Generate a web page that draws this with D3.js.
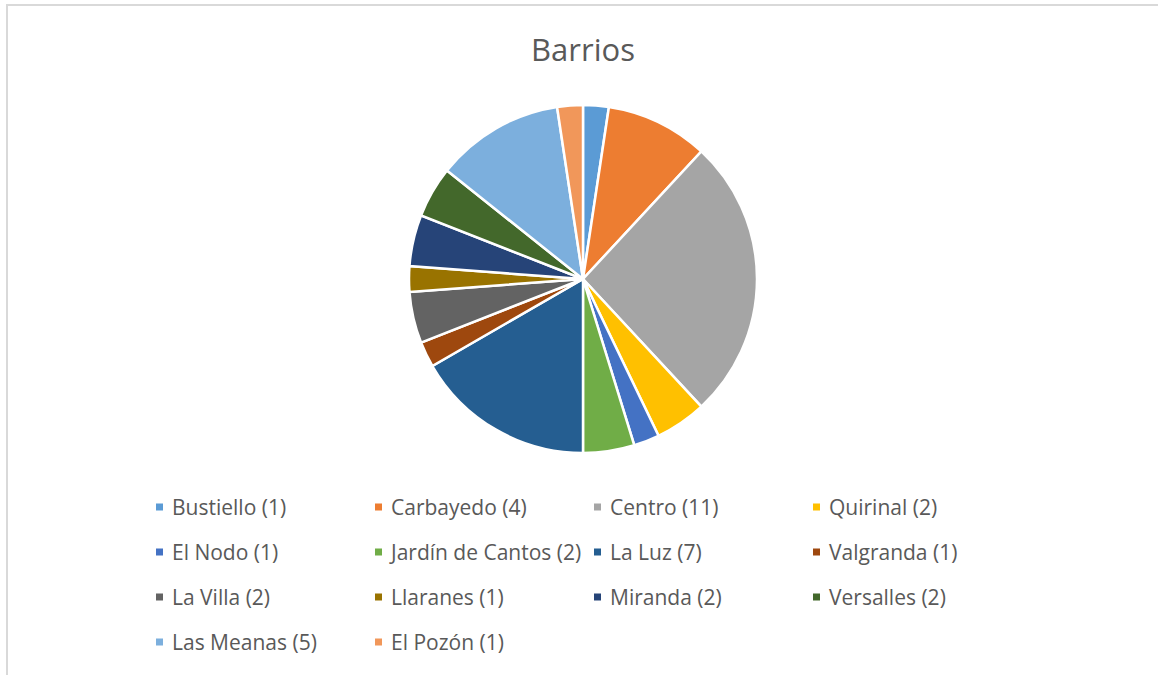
<!DOCTYPE html>
<html>
<head>
<meta charset="utf-8">
<script src="https://cdn.jsdelivr.net/npm/d3@7"></script>
<style>
  body { margin: 0; background: #fff; }
  text { font-family: "Open Sans", sans-serif; fill: #595959; }
</style>
</head>
<body>
<div class="chart"></div>
<script>
// datos del gráfico
const barrios = ["Bustiello", "Carbayedo", "Centro", "Quirinal", "El Nodo", "Jardín de Cantos", "La Luz",
    "Valgranda", "La Villa", "Llaranes", "Miranda", "Versalles", "Las Meanas", "El Pozón"];
const cantidades = [1, 4, 11, 2, 1, 2, 7, 1, 2, 1, 2, 2, 5, 1];
const colores = ["#5B9BD5", "#ED7D31", "#A5A5A5", "#FFC000", "#4472C4", "#70AD47", "#255E91",
    "#9E480E", "#636363", "#997300", "#264478", "#43682B", "#7CAFDD", "#F1975A"];

const width = 1158;
const height = 675;

const svg = d3.select("div.chart")
    .append("svg")
    .attr("width", width)
    .attr("height", height);

// borde del área del gráfico
svg.append("rect")
    .attr("x", 7)
    .attr("y", 5)
    .attr("width", width + 20)
    .attr("height", height + 20)
    .attr("fill", "none")
    .attr("stroke", "#d9d9d9")
    .attr("stroke-width", 2);

svg.append("text")
    .attr("x", 583)
    .attr("y", 61)
    .attr("text-anchor", "middle")
    .style("font-size", "31px")
    .text("Barrios");

const data = barrios.map(function(b, i) {
    return { nombre: b, valor: cantidades[i], color: colores[i] };
});

const pie = d3.pie().sort(null).value(function(d) { return d.valor; });
const arc = d3.arc().innerRadius(0).outerRadius(174);

svg.append("g")
    .attr("transform", "translate(583,279)")
    .selectAll("path")
    .data(pie(data))
    .enter()
    .append("path")
    .attr("d", arc)
    .attr("fill", function(d) { return d.data.color; })
    .attr("stroke", "#fff")
    .attr("stroke-width", 2.5);

// leyenda en 4 columnas
const colX = d3.scaleBand().domain([0, 1, 2, 3]).range([156, 1032]);
const filaY = d3.scaleBand().domain([0, 1, 2, 3]).range([485, 665]);

const item = svg.append("g")
    .selectAll("g")
    .data(data)
    .enter()
    .append("g")
    .attr("transform", function(d, i) {
        return "translate(" + colX(i % 4) + "," + (filaY(Math.floor(i / 4)) + filaY.bandwidth() / 2) + ")";
    });

item.append("rect")
    .attr("x", 0)
    .attr("y", -4)
    .attr("width", 7)
    .attr("height", 7)
    .attr("fill", function(d) { return d.color; });

item.append("text")
    .attr("x", 16)
    .attr("y", 7)
    .style("font-size", "21px")
    .text(function(d) { return d.nombre + " (" + d.valor + ")"; });
</script>
</body>
</html>
